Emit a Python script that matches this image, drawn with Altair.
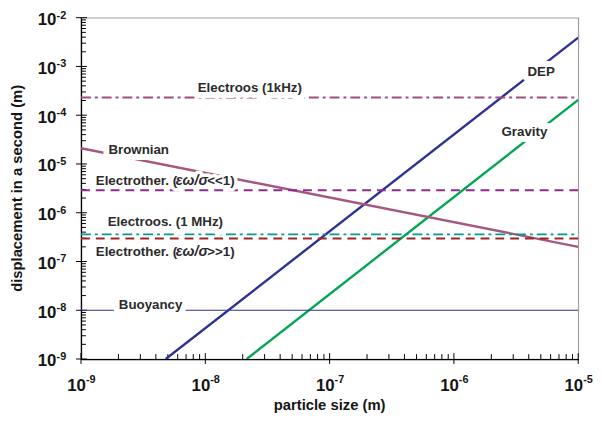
import altair as alt
import pandas as pd

# ---------------- data ----------------
names   = ["DEP", "Gravity", "Brownian", "Electroos (1kHz)", "Electrother. lo",
           "Electroos. (1 MHz)", "Electrother. hi", "Buoyancy"]
x_start = [4.8e-9, 2.15e-8, 1e-9, 1e-9, 1e-9, 1e-9, 1e-9, 1e-9]
x_end   = [1e-5, 1e-5, 1e-5, 1e-5, 1e-5, 1e-5, 1e-5, 1e-5]
y_start = [1e-9, 1e-9, 2.1e-5, 2.3e-4, 2.9e-6, 3.6e-7, 2.95e-7, 1e-8]
y_end   = [3.9e-3, 2.06e-4, 2.0e-7, 2.3e-4, 2.9e-6, 3.6e-7, 2.95e-7, 1e-8]

# styles (separate from data)
colors = ["#2e3192", "#00a651", "#a5577f", "#9c4f80", "#8c2d8c", "#009a9c", "#9b2626", "#2e3192"]
widths = [2.4, 2.4, 2.4, 2.0, 2.0, 2.0, 2.0, 1.2]
dashes = [None, None, None, [10, 4, 3, 4], [9, 6], [10, 4, 3, 4], [9, 6], None]

# label anchors in data units
lab_text  = ["DEP", "Gravity", "Brownian", "Electroos (1kHz)", "Electroos. (1 MHz)", "Buoyancy"]
lab_x     = [5.03e-6, 3.69e-6, 2.91e-9, 2.28e-8, 4.77e-9, 3.63e-9]
lab_y     = [6.4e-4, 3.73e-5, 1.61e-5, 3.04e-4, 5.38e-7, 1.08e-8]

# Electrother labels, pieces (left anchored)
et_x = [1.315e-9, 1.315e-9]
et_y = [3.64e-6, 1.27e-7]
et_tail = [" <<1)", ">>1)"]

x_decades = [-9, -8, -7, -6, -5]
y_decades = [-9, -8, -7, -6, -5, -4, -3, -2]

W, H = 504, 346
FONT = "Liberation Sans"

xs = alt.Scale(type="log", domain=[1e-9, 1e-5], nice=False)
ys = alt.Scale(type="log", domain=[1e-9, 1e-2], nice=False)
xax = alt.Axis(domain=True, domainColor="black", domainWidth=1.3, ticks=False,
               labels=False, grid=False, title=None)
yax = alt.Axis(domain=True, domainColor="black", domainWidth=1.3, ticks=False,
               labels=False, grid=False, title=None)

layers = []

# ---------- ticks ----------
xmaj = pd.DataFrame({"v": [10.0 ** d for d in x_decades]})
xmin = pd.DataFrame({"v": [m * 10.0 ** d for d in x_decades[:-1] for m in range(2, 10)]})
ymaj = pd.DataFrame({"v": [10.0 ** d for d in y_decades]})
ymin = pd.DataFrame({"v": [m * 10.0 ** d for d in y_decades[:-1] for m in range(2, 10)]})

layers.append(alt.Chart(xmin).mark_rule(color="black", strokeWidth=1).encode(
    x=alt.X("v:Q", scale=xs, axis=xax), y=alt.value(H), y2=alt.value(H - 5)))
layers.append(alt.Chart(xmaj).mark_rule(color="black", strokeWidth=1).encode(
    x=alt.X("v:Q", scale=xs, axis=xax), y=alt.value(H + 5), y2=alt.value(H - 6)))
layers.append(alt.Chart(ymin).mark_rule(color="black", strokeWidth=1).encode(
    y=alt.Y("v:Q", scale=ys, axis=yax), x=alt.value(0), x2=alt.value(5)))
layers.append(alt.Chart(ymaj).mark_rule(color="black", strokeWidth=1).encode(
    y=alt.Y("v:Q", scale=ys, axis=yax), x=alt.value(-5), x2=alt.value(6)))

# ---------- series lines ----------
for i, n in enumerate(names):
    df = pd.DataFrame({"x": [x_start[i], x_end[i]], "y": [y_start[i], y_end[i]]})
    kw = dict(color=colors[i], strokeWidth=widths[i], strokeCap="butt", clip=True)
    if dashes[i] is not None:
        kw["strokeDash"] = dashes[i]
    layers.append(alt.Chart(df).mark_line(**kw).encode(
        x=alt.X("x:Q", scale=xs, axis=xax), y=alt.Y("y:Q", scale=ys, axis=yax)))

# ---------- labels ----------
TXT = "#2b2b2b"
FS = 13.5
lab_df = pd.DataFrame({"t": lab_text, "x": lab_x, "y": lab_y})


def txt(df, **kw):
    base = dict(font=FONT, fontSize=FS, fontWeight="bold", baseline="alphabetic")
    base.update(kw)
    return alt.Chart(df).mark_text(**base).encode(
        x=alt.X("x:Q", scale=xs, axis=xax), y=alt.Y("y:Q", scale=ys, axis=yax),
        text="t:N")


layers.append(txt(lab_df, align="center", stroke="white", strokeWidth=12,
                  strokeJoin="round", fill="white"))
layers.append(txt(lab_df, align="center", color=TXT))

et_df1 = pd.DataFrame({"t": ["Electrother. (", "Electrother. ("], "x": et_x, "y": et_y})
et_df2 = pd.DataFrame({"t": ["\u03b5\u03c9/\u03c3", "\u03b5\u03c9/\u03c3"], "x": et_x, "y": et_y})
et_df3 = pd.DataFrame({"t": et_tail, "x": et_x, "y": et_y})
pieces = [(et_df1, 0, False, FS), (et_df2, 81, True, 14.5), (et_df3, 113, False, FS)]
for d, dx, it, fs in pieces:
    extra = {"fontStyle": "italic"} if it else {}
    layers.append(txt(d, align="left", dx=dx, stroke="white", strokeWidth=7,
                      strokeJoin="round", fill="white", fontSize=fs, **extra))
for d, dx, it, fs in pieces:
    extra = {"fontStyle": "italic"} if it else {}
    layers.append(txt(d, align="left", dx=dx, color=TXT, fontSize=fs, **extra))

# ---------- axis tick labels (10 with superscript) ----------
xl = pd.DataFrame({"v": [10.0 ** d for d in x_decades], "b": ["10"] * len(x_decades),
                   "e": [str(d) for d in x_decades]})
yl = pd.DataFrame({"v": [10.0 ** d for d in y_decades], "b": ["10"] * len(y_decades),
                   "e": [str(d) for d in y_decades]})
AX = "#151515"
layers.append(alt.Chart(xl).mark_text(font=FONT, fontSize=17, fontWeight="bold", color=AX,
                                      align="right", baseline="alphabetic", dx=5).encode(
    x=alt.X("v:Q", scale=xs, axis=xax), y=alt.value(H + 32), text="b:N"))
layers.append(alt.Chart(xl).mark_text(font=FONT, fontSize=11, fontWeight="bold", color=AX,
                                      align="left", baseline="alphabetic", dx=5).encode(
    x=alt.X("v:Q", scale=xs, axis=xax), y=alt.value(H + 24), text="e:N"))
layers.append(alt.Chart(yl).mark_text(font=FONT, fontSize=17, fontWeight="bold", color=AX,
                                      align="right", baseline="alphabetic", dy=7.5).encode(
    y=alt.Y("v:Q", scale=ys, axis=yax), x=alt.value(-25), text="b:N"))
layers.append(alt.Chart(yl).mark_text(font=FONT, fontSize=11, fontWeight="bold", color=AX,
                                      align="right", baseline="alphabetic", dy=1).encode(
    y=alt.Y("v:Q", scale=ys, axis=yax), x=alt.value(-15), text="e:N"))

# ---------- axis titles ----------
layers.append(alt.Chart(pd.DataFrame({"t": ["particle size (m)"]})).mark_text(
    font=FONT, fontSize=15, fontWeight="bold", color=AX, align="center",
    baseline="alphabetic").encode(x=alt.value(W / 2), y=alt.value(H + 52), text="t:N"))
layers.append(alt.Chart(pd.DataFrame({"t": ["displacement in a second (m)"]})).mark_text(
    font=FONT, fontSize=15, fontWeight="bold", color=AX, align="center",
    baseline="alphabetic", angle=270).encode(x=alt.value(-60), y=alt.value(H / 2), text="t:N"))

chart = alt.layer(*layers).properties(
    width=W, height=H,
    autosize=alt.AutoSizeParams(type="none"),
    padding={"left": 74, "top": 7, "right": 16, "bottom": 60},
).configure_view(stroke="#a0a0a0", strokeWidth=1.2)

chart.save("out.html", embed_options={"renderer": "svg", "actions": False})
